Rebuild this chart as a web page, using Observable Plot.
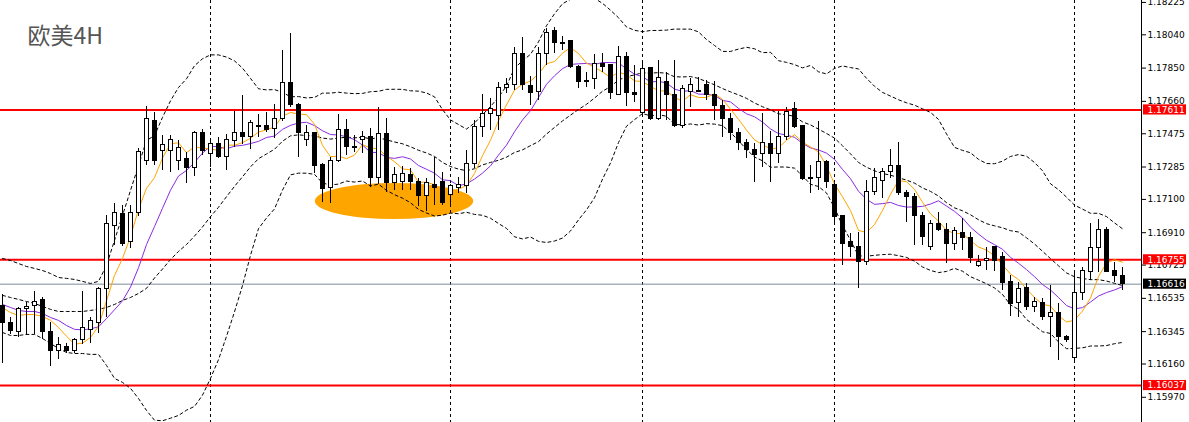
<!DOCTYPE html>
<html><head><meta charset="utf-8">
<script src="https://cdn.jsdelivr.net/npm/d3@7"></script>
<script src="https://cdn.jsdelivr.net/npm/@observablehq/plot@0.6"></script>
<style>html,body{margin:0;padding:0;background:#fff;} #chart{width:1189px;height:422px;overflow:hidden;}</style>
</head><body><div id="chart"></div>
<script>
// ---- data (EUR/USD 4H candles) ----
const opens = [1.16489,1.16392,1.16340,1.16472,1.16489,1.16523,1.16340,1.16237,1.16260,1.16232,
1.16300,1.16357,1.16392,1.16586,1.16951,1.17014,1.16854,1.17025,1.17322,1.17545,
1.17379,1.17379,1.17322,1.17328,1.17277,1.17477,1.17357,1.17414,1.17340,1.17431,
1.17477,1.17454,1.17511,1.17517,1.17505,1.17562,1.17762,1.17642,1.17437,1.17477,
1.17294,1.17163,1.17322,1.17494,1.17397,1.17437,1.17459,1.17220,1.17471,1.17191,
1.17197,1.17242,1.17197,1.17117,1.17180,1.17197,1.17128,1.17168,1.17174,1.17305,
1.17511,1.17585,1.17579,1.17734,1.17756,1.17933,1.17745,1.17711,1.17933,1.18059,
1.17996,1.18002,1.17859,1.17768,1.17785,1.17876,1.17865,1.17699,1.17916,1.17705,
1.17596,1.17848,1.17562,1.17768,1.17699,1.17522,1.17711,1.17722,1.17756,1.17694,
1.17636,1.17562,1.17477,1.17425,1.17385,1.17357,1.17419,1.17362,1.17454,1.17614,
1.17517,1.17220,1.17220,1.17311,1.17180,1.17003,1.16854,1.16826,1.16740,1.17140,
1.17208,1.17254,1.17288,1.17134,1.17111,1.17008,1.16826,1.16957,1.16928,1.16843,
1.16911,1.16877,1.16717,1.16746,1.16826,1.16769,1.16626,1.16506,1.16592,1.16483,
1.16506,1.16426,1.16454,1.16317,1.16192,1.16563,1.16683,1.16820,1.16928,1.16689,
1.16660];
const highs = [1.16557,1.16426,1.16483,1.16512,1.16574,1.16540,1.16397,1.16312,1.16277,1.16306,
1.16574,1.16426,1.16597,1.17008,1.17077,1.17065,1.17065,1.17391,1.17631,1.17596,
1.17465,1.17465,1.17437,1.17368,1.17488,1.17499,1.17442,1.17454,1.17471,1.17602,
1.17694,1.17551,1.17585,1.17596,1.17642,1.17950,1.18048,1.17648,1.17522,1.17480,
1.17305,1.17340,1.17585,1.17557,1.17465,1.17488,1.17505,1.17625,1.17562,1.17282,
1.17288,1.17277,1.17220,1.17220,1.17340,1.17254,1.17185,1.17225,1.17379,1.17551,
1.17699,1.17676,1.17768,1.17791,1.17968,1.18025,1.17802,1.17968,1.18076,1.18082,
1.18030,1.18008,1.17865,1.17825,1.17928,1.17933,1.17865,1.17973,1.17939,1.17865,
1.17876,1.17853,1.17893,1.17825,1.17893,1.17751,1.17791,1.17796,1.17779,1.17773,
1.17665,1.17591,1.17505,1.17442,1.17419,1.17591,1.17488,1.17602,1.17625,1.17654,
1.17517,1.17294,1.17545,1.17322,1.17191,1.17003,1.16906,1.16911,1.17208,1.17277,
1.17277,1.17385,1.17425,1.17151,1.17134,1.17025,1.16980,1.17025,1.16963,1.16940,
1.16991,1.16911,1.16780,1.16826,1.16831,1.16797,1.16666,1.16626,1.16620,1.16540,
1.16534,1.16609,1.16506,1.16323,1.16694,1.16711,1.16963,1.16986,1.16940,1.16740,
1.16711];
const lows = [1.16163,1.16329,1.16312,1.16323,1.16329,1.16300,1.16146,1.16186,1.16220,1.16220,
1.16272,1.16277,1.16335,1.16426,1.16837,1.16831,1.16820,1.17003,1.17294,1.17294,
1.17265,1.17254,1.17265,1.17191,1.17231,1.17351,1.17282,1.17334,1.17265,1.17397,
1.17414,1.17385,1.17454,1.17482,1.17448,1.17545,1.17625,1.17340,1.17402,1.17248,
1.17083,1.17077,1.17311,1.17351,1.17368,1.17362,1.17168,1.17185,1.17140,1.17151,
1.17151,1.17151,1.17060,1.17031,1.17065,1.17065,1.17054,1.17134,1.17134,1.17277,
1.17454,1.17494,1.17494,1.17705,1.17722,1.17722,1.17636,1.17665,1.17865,1.17933,
1.17950,1.17848,1.17734,1.17739,1.17728,1.17825,1.17671,1.17694,1.17631,1.17654,
1.17579,1.17551,1.17551,1.17551,1.17511,1.17505,1.17625,1.17711,1.17665,1.17551,
1.17454,1.17437,1.17379,1.17334,1.17197,1.17282,1.17197,1.17305,1.17437,1.17505,
1.17208,1.17134,1.17151,1.17163,1.16968,1.16723,1.16769,1.16592,1.16723,1.17123,
1.17105,1.17220,1.17123,1.16968,1.16837,1.16837,1.16808,1.16917,1.16734,1.16808,
1.16808,1.16734,1.16711,1.16694,1.16689,1.16580,1.16432,1.16426,1.16466,1.16454,
1.16409,1.16255,1.16180,1.16283,1.16180,1.16523,1.16637,1.16683,1.16683,1.16626,
1.16580];
const closes = [1.16392,1.16346,1.16472,1.16483,1.16517,1.16340,1.16237,1.16266,1.16232,1.16295,
1.16363,1.16403,1.16586,1.16957,1.17020,1.16848,1.17025,1.17368,1.17557,1.17322,
1.17408,1.17437,1.17391,1.17277,1.17482,1.17379,1.17414,1.17340,1.17437,1.17477,
1.17454,1.17539,1.17517,1.17499,1.17562,1.17762,1.17642,1.17477,1.17477,1.17288,
1.17157,1.17322,1.17494,1.17402,1.17391,1.17454,1.17225,1.17471,1.17191,1.17237,
1.17248,1.17197,1.17117,1.17191,1.17168,1.17077,1.17174,1.17180,1.17300,1.17511,
1.17585,1.17614,1.17734,1.17756,1.17933,1.17751,1.17705,1.17933,1.18053,1.17996,
1.17990,1.17859,1.17768,1.17779,1.17876,1.17859,1.17705,1.17916,1.17705,1.17699,
1.17842,1.17562,1.17796,1.17694,1.17522,1.17728,1.17751,1.17716,1.17694,1.17631,
1.17562,1.17477,1.17425,1.17385,1.17351,1.17425,1.17357,1.17454,1.17602,1.17511,
1.17214,1.17216,1.17311,1.17202,1.16997,1.16848,1.16826,1.16740,1.17145,1.17220,
1.17254,1.17288,1.17134,1.17111,1.17003,1.16883,1.16957,1.16928,1.16843,1.16917,
1.16877,1.16763,1.16740,1.16757,1.16751,1.16620,1.16500,1.16586,1.16483,1.16512,
1.16426,1.16449,1.16312,1.16300,1.16563,1.16689,1.16820,1.16928,1.16683,1.16660,
1.16616];

// indicator values before enough history exists
const ma5Early = [1.16483,1.16454,1.16437,1.16443];
const ma10Early = [1.16500,1.16483,1.16466,1.16460,1.16460,1.16449,1.16426,1.16409,1.16380];
const bbUpperEarly = [1.16763,1.16751,1.16734,1.16717,1.16706,1.16694,1.16677,1.16654,1.16649,1.16643,
1.16632,1.16620,1.16632,1.16723,1.16866,1.17008,1.17151,1.17294,1.17437];
const bbMidEarly = [1.16552,1.16540,1.16529,1.16517,1.16506,1.16489,1.16472,1.16460,1.16460,1.16460,
1.16460,1.16466,1.16472,1.16483,1.16500,1.16523,1.16540,1.16563,1.16592];
const bbLowerEarly = [1.16340,1.16323,1.16323,1.16329,1.16329,1.16306,1.16277,1.16249,1.16226,1.16220,
1.16220,1.16215,1.16215,1.16152,1.16078,1.16055,1.16021,1.15963,1.15895];

const separators = [26, 56, 80, 104, 134];
const yTicks = [1.18225,1.18040,1.17850,1.17660,1.17475,1.17285,1.17100,1.16910,1.16725,1.16535,1.16345,1.16160,1.15970];
const levels = [1.17611, 1.16755, 1.16037];
const lastPrice = 1.16616;
const title = "欧美4H";
const zoneCenterIndex = 49;
const zoneCenterPrice = 1.17088;
const zoneHalfWidth = 9.9;    // in candles
const zoneHalfHeight = 0.00103; // in price

// ---- derived tables ----
const candles = closes.map((c, i) => ({i, o: opens[i], h: highs[i], l: lows[i], c}));
function sma(k, i) { let s = 0; for (let j = i - k + 1; j <= i; j++) s += closes[j]; return s / k; }
const ind = candles.map(({i}) => {
  const ma5 = i < 4 ? ma5Early[i] : sma(5, i);
  const ma10 = i < 9 ? ma10Early[i] : sma(10, i);
  let mid, up, lo;
  if (i < 19) { mid = bbMidEarly[i]; up = bbUpperEarly[i]; lo = bbLowerEarly[i]; }
  else {
    mid = sma(20, i);
    let v = 0; for (let j = i - 19; j <= i; j++) v += (closes[j] - mid) ** 2;
    const sd = Math.sqrt(v / 20);
    up = mid + 2 * sd; lo = mid - 2 * sd;
  }
  return {i, ma5, ma10, mid, up, lo};
});
const boxes = [...levels.map(v => ({v, fill: "#ff0000"})), {v: lastPrice, fill: "#000000"}];

const W = 1189, H = 422, MR = 48;
const xDomain = [-0.25, (W - MR - 2) / 8];
const yDomain = [1.15826, 1.18236];

const chart = Plot.plot({
  width: W, height: H,
  marginTop: 0, marginBottom: 0, marginLeft: 0, marginRight: MR,
  style: {background: "white", fontFamily: "DejaVu Sans, sans-serif", fontSize: "9px", color: "black"},
  x: {domain: xDomain, axis: null},
  y: {domain: yDomain, axis: "right", ticks: yTicks, tickFormat: d => d.toFixed(5), tickSize: 4, tickPadding: 2, line: true, label: null},
  marks: [
    Plot.ruleX(separators, {x: d => d, stroke: "black", strokeDasharray: "3,3"}),
    Plot.ruleY(levels, {y: d => d, stroke: "#ff0000", strokeWidth: 2}),
    Plot.ruleY([lastPrice], {y: d => d, stroke: "#7a8a99", strokeWidth: 1}),
    Plot.line(ind, {x: "i", y: "up", stroke: "black", strokeDasharray: "3,3", strokeWidth: 1}),
    Plot.line(ind, {x: "i", y: "mid", stroke: "black", strokeDasharray: "3,3", strokeWidth: 1}),
    Plot.line(ind, {x: "i", y: "lo", stroke: "black", strokeDasharray: "3,3", strokeWidth: 1}),
    Plot.line(ind, {x: "i", y: "ma10", stroke: "#8a2be2", strokeWidth: 1}),
    Plot.line(ind, {x: "i", y: "ma5", stroke: "#ffa500", strokeWidth: 1}),
    Plot.ruleX(candles, {x: "i", y1: "l", y2: "h", stroke: "black", strokeWidth: 1, shapeRendering: "crispEdges"}),
    Plot.rect(candles, {
      x1: d => d.i - 0.25, x2: d => d.i + 0.3,
      y1: "o", y2: d => (Math.abs(d.c - d.o) < 0.00002 ? d.o + (d.c >= d.o ? 0.00002 : -0.00002) : d.c),
      fill: d => (d.c > d.o ? "white" : "black"), stroke: "black", strokeWidth: 1, shapeRendering: "crispEdges"
    }),
    Plot.rect(boxes, {x1: (W - MR + 2 - 2) / 8, x2: (W - 3 - 2) / 8, y1: d => d.v - 0.00029, y2: d => d.v + 0.00029, fill: "fill"}),
    Plot.text(boxes, {x: (W - MR + 6 - 2) / 8, y: "v", text: d => d.v.toFixed(5), fill: "white", textAnchor: "start", fontSize: 9}),
    Plot.text([title], {text: d => d, frameAnchor: "top-left", dx: 27, dy: 27, lineAnchor: "top", textAnchor: "start",
      fontSize: 23, fill: "#555555", fontFamily: "Noto Sans CJK SC, sans-serif"})
  ]
});

// highlighted consolidation zone drawn behind the candles through the plot's own scales
const sx = chart.scale("x"), sy = chart.scale("y");
const cx = sx.apply(zoneCenterIndex), cy = sy.apply(zoneCenterPrice);
const rx = Math.abs(sx.apply(zoneCenterIndex + zoneHalfWidth) - cx);
const ry = Math.abs(sy.apply(zoneCenterPrice + zoneHalfHeight) - cy);
d3.select(chart).insert("ellipse", "g")
  .attr("cx", cx).attr("cy", cy).attr("rx", rx).attr("ry", ry).attr("fill", "#ffa500");

document.getElementById("chart").appendChild(chart);
</script>
</body></html>
